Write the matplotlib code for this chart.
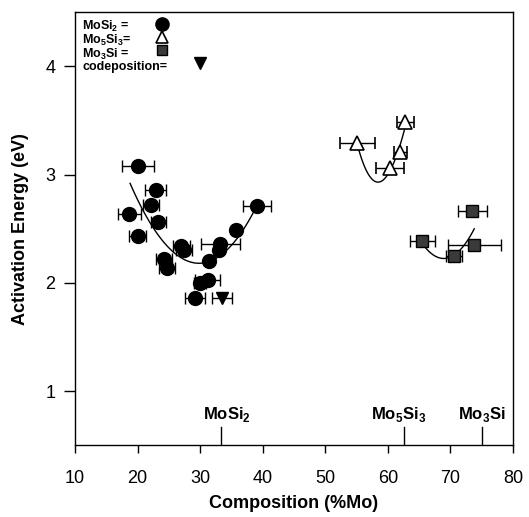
import matplotlib.pyplot as plt
import numpy as np

plt.rcParams['font.family'] = ['Liberation Sans', 'DejaVu Sans']
plt.rcParams['mathtext.fontset'] = 'custom'
plt.rcParams['mathtext.rm'] = 'Liberation Sans'
plt.rcParams['mathtext.bf'] = 'Liberation Sans:bold'

# MoSi2 films: composition (%Mo), activation energy (eV), composition error
mosi2_x = [20.1, 22.9, 22.1, 18.7, 23.3, 20.0, 27.0, 27.4, 24.2, 24.7,
           33.2, 33.0, 35.7, 39.1, 31.4, 31.2, 30.0, 29.1]
mosi2_y = [3.08, 2.86, 2.72, 2.64, 2.56, 2.43, 2.34, 2.30, 2.22, 2.14,
           2.36, 2.30, 2.49, 2.71, 2.20, 2.03, 2.00, 1.86]
mosi2_err = [2.6, 1.7, 1.3, 1.9, 1.2, 1.3, 1.3, 1.3, 1.3, 1.3,
             3.1, 0.0, 0.0, 2.2, 0.0, 2.0, 1.0, 1.6]

# Mo5Si3 films
mo5si3_x = [55.1, 62.8, 62.0, 60.3]
mo5si3_y = [3.29, 3.49, 3.21, 3.06]
mo5si3_err = [2.8, 1.4, 1.1, 2.2]

# Mo3Si films
mo3si_x = [73.5, 65.5, 73.8, 70.6]
mo3si_y = [2.66, 2.39, 2.35, 2.25]
mo3si_err = [2.3, 2.0, 4.2, 1.3]

# codeposited film
codep_x = [33.5]
codep_y = [1.86]
codep_err = [1.6]

# trend curves traced through each phase
fit_mosi2_x = [18.8, 20.6, 22.5, 25.2, 27.3, 29.9, 32.1, 34.2, 36.3, 38.7]
fit_mosi2_y = [2.92, 2.70, 2.50, 2.33, 2.22, 2.18, 2.19, 2.30, 2.47, 2.66]
fit_mo5si3_x = [55.3, 56.3, 57.3, 58.6, 60.0, 61.3, 62.1, 62.8]
fit_mo5si3_y = [3.24, 3.07, 2.97, 2.94, 2.99, 3.16, 3.32, 3.44]
fit_mo3si_x = [65.8, 67.7, 69.8, 71.7, 72.7, 73.8]
fit_mo3si_y = [2.33, 2.26, 2.24, 2.29, 2.39, 2.51]

# stoichiometric compositions
phase_x = [33.3, 62.5, 75.0]
phase_labels = [r'MoSi$_{\mathbf{2}}$', r'Mo$_{\mathbf{5}}$Si$_{\mathbf{3}}$',
                r'Mo$_{\mathbf{3}}$Si']

fig = plt.figure(figsize=(5.29, 5.17), dpi=100)
ax = fig.add_axes([0.1418, 0.139, 0.828, 0.837])


def smooth(xs, ys, deg):
    c = np.polyfit(xs, ys, deg)
    xx = np.linspace(min(xs), max(xs), 100)
    return xx, np.polyval(c, xx)


for fx, fy, d in [(fit_mosi2_x, fit_mosi2_y, 3),
                  (fit_mo5si3_x, fit_mo5si3_y, 3),
                  (fit_mo3si_x, fit_mo3si_y, 2)]:
    xx, yy = smooth(fx, fy, d)
    ax.plot(xx, yy, color='black', lw=1.0, zorder=1)

eb = dict(ecolor='black', elinewidth=1.0, capsize=4, capthick=1.0, ls='none')
ax.errorbar(mosi2_x, mosi2_y, xerr=mosi2_err, fmt='o', ms=10,
            mfc='black', mec='black', zorder=3, **eb)
ax.errorbar(mo5si3_x, mo5si3_y, xerr=mo5si3_err, fmt='^', ms=9.5,
            mfc='white', mec='black', mew=1.2, zorder=3, **eb)
ax.errorbar(mo3si_x, mo3si_y, xerr=mo3si_err, fmt='s', ms=8.5,
            mfc='#3a3a3a', mec='black', zorder=3, **eb)
ax.errorbar(codep_x, codep_y, xerr=codep_err, fmt='v', ms=9,
            mfc='black', mec='black', zorder=3, **eb)

# phase markers along the bottom axis
for px, lab, dx in zip(phase_x, phase_labels, [1.0, -0.8, 0.0]):
    ax.plot([px, px], [0.5, 0.665], color='black', lw=1.0)
    ax.text(px + dx, 0.78, lab, ha='center', va='center',
            fontsize=12, fontweight='bold')

# legend drawn by hand: one text block, markers beside it
leg_text = [r'MoSi$_{\mathbf{2}}$ =', r'Mo$_{\mathbf{5}}$Si$_{\mathbf{3}}$=',
            r'Mo$_{\mathbf{3}}$Si =', 'codeposition=']
ax.text(0.016, 0.986, '\n'.join(leg_text), transform=ax.transAxes,
        ha='left', va='top', fontsize=9, fontweight='bold', linespacing=0.9)
ax.plot(0.199, 0.974, 'o', ms=9.5, color='black', transform=ax.transAxes)
ax.plot(0.199, 0.943, '^', ms=8, mfc='white', mec='black', mew=1.2,
        transform=ax.transAxes)
ax.plot(0.199, 0.912, 's', ms=7, mfc='#3a3a3a', mec='black',
        transform=ax.transAxes)
ax.plot(0.285, 0.882, 'v', ms=9, color='black', transform=ax.transAxes)

ax.set_xlim(10, 80)
ax.set_ylim(0.5, 4.5)
ax.set_xticks(range(10, 81, 10))
ax.set_yticks([1, 2, 3, 4])
ax.tick_params(labelsize=13, length=6, width=1.0, direction='out', pad=12)
ax.tick_params(axis='y', length=8, pad=6)
for s in ax.spines.values():
    s.set_linewidth(1.0)

ax.set_xlabel('Composition (%Mo)', fontsize=13, fontweight='bold', labelpad=6)
ax.set_ylabel('Activation Energy (eV)', fontsize=13, fontweight='bold', labelpad=12)

plt.savefig('out.png', dpi=100)
